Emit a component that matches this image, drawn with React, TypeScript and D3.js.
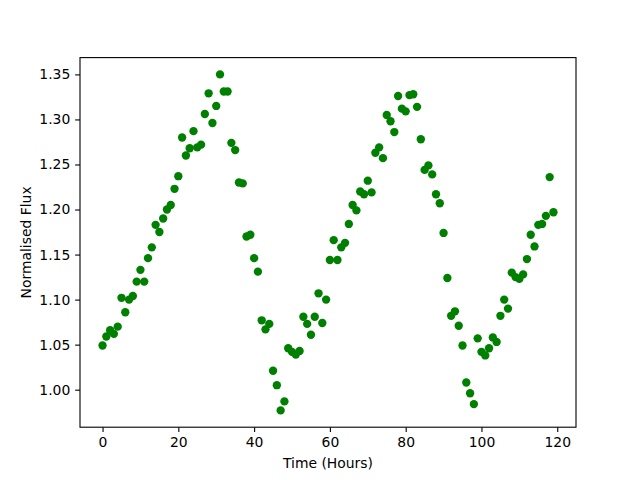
import React, { useEffect, useRef } from 'react';
import * as d3 from 'd3';

const hours = [
  0, 1, 2, 3, 4, 5, 6, 7, 8, 9, 10, 11, 12, 13, 14, 15, 16, 17, 18, 19,
  20, 21, 22, 23, 24, 25, 26, 27, 28, 29, 30, 31, 32, 33, 34, 35, 36, 37, 38, 39,
  40, 41, 42, 43, 44, 45, 46, 47, 48, 49, 50, 51, 52, 53, 54, 55, 56, 57, 58, 59,
  60, 61, 62, 63, 64, 65, 66, 67, 68, 69, 70, 71, 72, 73, 74, 75, 76, 77, 78, 79,
  80, 81, 82, 83, 84, 85, 86, 87, 88, 89, 90, 91, 92, 93, 94, 95, 96, 97, 98, 99,
  100, 101, 102, 103, 104, 105, 106, 107, 108, 109, 110, 111, 112, 113, 114, 115, 116, 117, 118, 119,
];

const flux = [
  1.049, 1.059, 1.066, 1.062, 1.070, 1.102, 1.086, 1.100, 1.104, 1.120,
  1.133, 1.120, 1.146, 1.158, 1.183, 1.175, 1.190, 1.200, 1.205, 1.223,
  1.237, 1.280, 1.260, 1.268, 1.287, 1.269, 1.272, 1.306, 1.329, 1.296,
  1.315, 1.350, 1.331, 1.331, 1.274, 1.266, 1.230, 1.229, 1.170, 1.172,
  1.146, 1.131, 1.077, 1.067, 1.073, 1.021, 1.005, 0.977, 0.987, 1.046,
  1.042, 1.039, 1.043, 1.081, 1.073, 1.061, 1.081, 1.107, 1.074, 1.100,
  1.144, 1.166, 1.144, 1.158, 1.163, 1.184, 1.205, 1.199, 1.220, 1.217,
  1.232, 1.219, 1.263, 1.269, 1.257, 1.305, 1.298, 1.286, 1.326, 1.312,
  1.309, 1.327, 1.328, 1.314, 1.278, 1.244, 1.249, 1.239, 1.217, 1.207,
  1.174, 1.124, 1.082, 1.087, 1.071, 1.049, 1.008, 0.996, 0.984, 1.057,
  1.042, 1.038, 1.046, 1.058, 1.053, 1.082, 1.100, 1.090, 1.130, 1.125,
  1.123, 1.128, 1.145, 1.172, 1.159, 1.183, 1.184, 1.193, 1.236, 1.197,
];

const xTicks = [0, 20, 40, 60, 80, 100, 120];
const yTicks = [1.0, 1.05, 1.1, 1.15, 1.2, 1.25, 1.3, 1.35];

const App: React.FC = () => {
  const ref = useRef<SVGSVGElement>(null);

  useEffect(() => {
    if (!ref.current) return;
    const svg = d3.select(ref.current);
    svg.selectAll('*').remove();

    const W = 640, H = 480;
    const left = 80, right = 576, top = 57.6, bottom = 427.2;
    const font = 'DejaVu Sans, sans-serif';
    const fs = 13.9;

    const [xmin, xmax] = d3.extent(hours) as [number, number];
    const xpad = (xmax - xmin) * 0.05;
    const [ymin, ymax] = d3.extent(flux) as [number, number];
    const ypad = (ymax - ymin) * 0.05;

    const x = d3.scaleLinear().domain([xmin - xpad, xmax + xpad]).range([left, right]);
    const y = d3.scaleLinear().domain([ymin - ypad, ymax + ypad]).range([bottom, top]);

    svg.append('rect').attr('width', W).attr('height', H).attr('fill', 'white');

    const pts = hours.map((h, i) => ({ h, v: flux[i] }));
    svg.append('g')
      .selectAll('circle')
      .data(pts)
      .join('circle')
      .attr('cx', d => x(d.h))
      .attr('cy', d => y(d.v))
      .attr('r', 4.17)
      .attr('fill', 'green');

    const xAxis = d3.axisBottom(x).tickValues(xTicks).tickSize(4.86).tickPadding(4.86)
      .tickFormat(d => String(d));
    const gx = svg.append('g').attr('transform', `translate(0,${bottom})`).call(xAxis);
    gx.select('.domain').remove();

    const yAxis = d3.axisLeft(y).tickValues(yTicks).tickSize(4.86).tickPadding(4.86)
      .tickFormat(d3.format('.2f'));
    const gy = svg.append('g').attr('transform', `translate(${left},0)`).call(yAxis);
    gy.select('.domain').remove();

    svg.selectAll('.tick line').attr('stroke', 'black').attr('stroke-width', 1.1);
    svg.selectAll('.tick text')
      .attr('fill', 'black')
      .attr('font-family', font)
      .attr('font-size', fs);

    svg.append('rect')
      .attr('x', left).attr('y', top)
      .attr('width', right - left).attr('height', bottom - top)
      .attr('fill', 'none').attr('stroke', 'black').attr('stroke-width', 1.1);

    svg.append('text')
      .attr('x', (left + right) / 2).attr('y', 468)
      .attr('text-anchor', 'middle')
      .attr('font-family', font).attr('font-size', fs)
      .text('Time (Hours)');

    svg.append('text')
      .attr('transform', `translate(31,${(top + bottom) / 2}) rotate(-90)`)
      .attr('text-anchor', 'middle')
      .attr('font-family', font).attr('font-size', fs)
      .text('Normalised Flux');
  }, []);

  return (
    <svg
      ref={ref}
      width={640}
      height={480}
      style={{ position: 'absolute', left: 0, top: 0 }}
    />
  );
};

export default App;
